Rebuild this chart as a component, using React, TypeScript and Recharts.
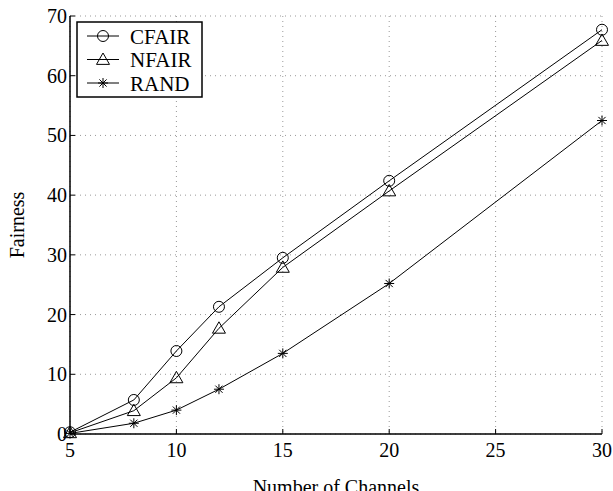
import { LineChart, Line, XAxis, YAxis, CartesianGrid } from "recharts";

const channels = [5, 8, 10, 12, 15, 20, 30];
const cfair = [0.3, 5.7, 13.9, 21.3, 29.5, 42.4, 67.7];
const nfair = [0.2, 3.9, 9.4, 17.7, 27.9, 40.7, 65.9];
const rand = [0.1, 1.8, 4.0, 7.5, 13.5, 25.2, 52.5];
const xTicks = [5, 10, 15, 20, 25, 30];
const yTicks = [0, 10, 20, 30, 40, 50, 60, 70];

const data = channels.map((c, i) => ({ c, cfair: cfair[i], nfair: nfair[i], rand: rand[i] }));

const FONT = "'Liberation Serif', 'Times New Roman', serif";
const W = 613;
const H = 491;

const CircleDot = ({ cx, cy }: any) =>
  cx == null ? null : <circle cx={cx} cy={cy} r={5.5} fill="none" stroke="#000" strokeWidth={1} />;

const TriDot = ({ cx, cy }: any) => {
  if (cx == null) return null;
  const s = 6.5;
  return (
    <path
      d={`M${cx},${cy - s} L${cx + s},${cy + s * 0.75} L${cx - s},${cy + s * 0.75} Z`}
      fill="none"
      stroke="#000"
      strokeWidth={1}
    />
  );
};

const StarDot = ({ cx, cy }: any) => {
  if (cx == null) return null;
  const s = 5;
  const d = s * 0.72;
  return (
    <path
      d={`M${cx - s},${cy} L${cx + s},${cy} M${cx},${cy - s} L${cx},${cy + s} M${cx - d},${cy - d} L${cx + d},${cy + d} M${cx - d},${cy + d} L${cx + d},${cy - d}`}
      stroke="#000"
      strokeWidth={1}
    />
  );
};

const XTick = ({ x, y, payload }: any) => (
  <g>
    <line x1={x} y1={y} x2={x} y2={y - 5} stroke="#000" strokeWidth={1} />
    <text x={x} y={y + 23} textAnchor="middle" fontFamily={FONT} fontSize={20} fill="#000">
      {payload.value}
    </text>
  </g>
);

const YTick = ({ x, y, payload }: any) => (
  <g>
    <line x1={x} y1={y} x2={x + 5} y2={y} stroke="#000" strokeWidth={1} />
    <text x={x - 3} y={y + 7} textAnchor="end" fontFamily={FONT} fontSize={20} fill="#000">
      {payload.value}
    </text>
  </g>
);

const legendItems = [
  { name: "CFAIR", Dot: CircleDot },
  { name: "NFAIR", Dot: TriDot },
  { name: "RAND", Dot: StarDot },
];

const LegendBox = () => (
  <svg width={127} height={77} style={{ position: "absolute", left: 76, top: 21 }}>
    <rect x={1} y={1} width={125} height={75} fill="#fff" stroke="#000" strokeWidth={1.5} />
    {legendItems.map(({ name, Dot }, i) => {
      const y = 15 + i * 23.5;
      return (
        <g key={name}>
          <line x1={11} y1={y} x2={43} y2={y} stroke="#000" strokeWidth={1} />
          <Dot cx={27} cy={y} />
          <text x={54} y={y + 7.5} fontFamily={FONT} fontSize={21} fill="#000">
            {name}
          </text>
        </g>
      );
    })}
  </svg>
);

export default function App() {
  return (
    <div style={{ position: "absolute", left: 0, top: 0, width: W, height: H, background: "#fff", overflow: "hidden" }}>
      <LineChart width={W} height={H} data={data} margin={{ top: 16, right: 11, bottom: 0, left: 0 }}>
        <CartesianGrid stroke="#999" strokeDasharray="1 4" />
        <XAxis
          dataKey="c"
          type="number"
          domain={[5, 30]}
          ticks={xTicks}
          height={57}
          tickSize={0}
          tickMargin={0}
          tick={<XTick />}
          axisLine={{ stroke: "#000", strokeWidth: 1.5 }}
        />
        <YAxis
          type="number"
          domain={[0, 70]}
          ticks={yTicks}
          width={70}
          tickSize={0}
          tickMargin={0}
          tick={<YTick />}
          axisLine={{ stroke: "#000", strokeWidth: 1.5 }}
        />
        <Line dataKey="cfair" stroke="#000" strokeWidth={1} dot={<CircleDot />} isAnimationActive={false} />
        <Line dataKey="nfair" stroke="#000" strokeWidth={1} dot={<TriDot />} isAnimationActive={false} />
        <Line dataKey="rand" stroke="#000" strokeWidth={1} dot={<StarDot />} isAnimationActive={false} />
        <text x={336} y={494} textAnchor="middle" fontFamily={FONT} fontSize={20} fill="#000">
          Number of Channels
        </text>
        <text
          x={24}
          y={225}
          textAnchor="middle"
          fontFamily={FONT}
          fontSize={20}
          fill="#000"
          transform="rotate(-90 24 225)"
        >
          Fairness
        </text>
      </LineChart>
      <LegendBox />
    </div>
  );
}
